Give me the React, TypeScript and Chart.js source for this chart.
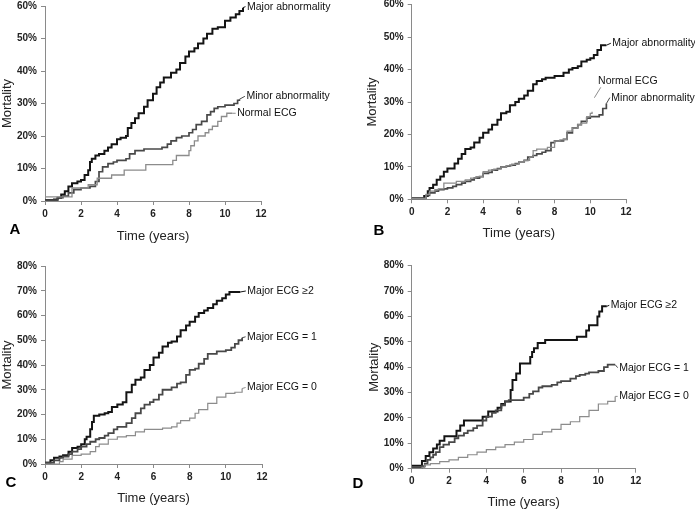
import React, { useEffect, useRef } from "react";
import { Chart, registerables } from "chart.js";
Chart.register(...registerables);

const FONT = "'Liberation Sans', Arial, sans-serif";
const BLACK = "#141414";
const DARK = "#484848";
const LIGHT = "#8c8c8c";
const AXIS = "#8a8a8a";

// ---------- Panel A ----------
const aMajorT = [0, 0.5, 0.7, 0.9, 1.1, 1.3, 1.5, 1.8, 2.0, 2.2, 2.4, 2.5, 2.6, 2.8, 3.0, 3.3, 3.5, 3.7, 4.0, 4.2, 4.5, 4.6, 4.8, 5.0, 5.2, 5.5, 5.7, 6.0, 6.2, 6.4, 6.6, 7.0, 7.3, 7.5, 7.8, 8.0, 8.3, 8.5, 8.8, 9.0, 9.3, 9.6, 10.0, 10.3, 10.6, 10.8, 11.0];
const aMajorV = [0.3, 0.5, 1, 2, 3, 4.5, 5.5, 6, 6.5, 8, 9.5, 12, 13, 14, 14.5, 15.5, 16.5, 17.5, 19, 19.5, 20, 22.5, 24, 25.5, 27, 29, 31, 33, 35, 36.5, 38, 39.5, 40.5, 42.5, 44.5, 46, 47, 48.5, 50, 51.5, 53, 53.5, 55.5, 56.5, 57.5, 58.5, 59.5];
const aMinorT = [0, 0.7, 1.0, 1.3, 1.6, 2.0, 2.5, 2.8, 3.0, 3.2, 3.5, 3.8, 4.0, 4.5, 4.7, 5.0, 5.5, 6.0, 6.5, 6.8, 7.0, 7.3, 7.6, 8.0, 8.2, 8.4, 8.7, 9.0, 9.2, 9.4, 9.6, 10.0, 10.5, 10.7, 10.8];
const aMinorV = [0.3, 1, 1.5, 2.5, 3.5, 4, 4.5, 6, 9, 10.5, 11.5, 12, 12.5, 13, 14.5, 15.5, 16, 16, 16.5, 17.5, 18.5, 19.5, 20, 21, 22, 23.5, 24.5, 26.5, 27.5, 28.5, 29, 29.5, 30, 31, 31.3];
const aNormalT = [0, 1.4, 1.5, 2.4, 2.9, 3.7, 4.4, 5.6, 7.1, 7.3, 8.0, 8.1, 8.3, 8.5, 8.9, 9.1, 9.3, 9.6, 9.8, 10.1, 10.4];
const aNormalV = [1.3, 1.3, 4, 5, 7, 8, 9.5, 11.2, 12.5, 14, 15.5, 17, 18.5, 20, 21, 22, 23, 24.5, 26, 27, 27];

// ---------- Panel B ----------
const bMajorT = [0, 0.5, 0.7, 0.9, 1.0, 1.2, 1.4, 1.6, 1.8, 2.0, 2.2, 2.4, 2.6, 2.8, 3.0, 3.3, 3.5, 3.8, 4.0, 4.3, 4.5, 4.8, 5.0, 5.3, 5.5, 5.8, 6.0, 6.3, 6.5, 6.8, 7.0, 7.3, 7.5, 8.0, 8.3, 8.5, 8.8, 9.0, 9.3, 9.5, 9.8, 10.0, 10.2, 10.4, 10.6, 10.9];
const bMajorV = [0.3, 0.3, 1, 2.5, 3.5, 4.5, 6, 7, 8.5, 9.5, 9.5, 11, 12.5, 14, 15.5, 16, 17.5, 19, 20.5, 21.5, 23, 24.5, 26.5, 27, 29, 30, 31, 32, 33.5, 35.5, 36.5, 37, 37.5, 38, 38, 39, 40, 40.5, 41, 42.5, 43, 43.5, 44.5, 46, 47.5, 47.5];
const bNormalT = [0, 0.5, 0.8, 1.0, 1.3, 1.5, 1.8, 2.2, 2.5, 3.0, 3.3, 3.6, 4.0, 4.3, 4.6, 5.0, 5.3, 5.6, 6.0, 6.3, 6.6, 6.8, 7.0, 7.3, 7.6, 8.0, 8.3, 8.5, 8.7, 9.0, 9.3, 9.5, 9.8, 10.0, 10.1];
const bNormalV = [0.3, 0.3, 1.5, 2.5, 3, 3.2, 5, 5, 5.5, 6, 6.5, 7, 8.5, 9, 9.3, 10, 10.3, 10.8, 11.5, 12, 13, 15, 15.5, 15.5, 16, 18, 18.3, 18.5, 21, 22, 23, 23.5, 25.5, 26.5, 27];
const bMinorT = [0, 0.5, 0.8, 1.0, 1.3, 1.5, 1.8, 2.0, 2.3, 2.5, 2.8, 3.0, 3.3, 3.5, 3.8, 4.0, 4.3, 4.5, 4.8, 5.0, 5.3, 5.5, 5.8, 6.0, 6.3, 6.5, 6.8, 7.0, 7.3, 7.5, 7.8, 8.0, 8.3, 8.5, 8.7, 9.0, 9.3, 9.5, 9.8, 10.0, 10.3, 10.5, 10.7, 10.9];
const bMinorV = [0.3, 0.3, 1.2, 2, 2.5, 3, 3.2, 3.5, 4, 4.5, 5, 5.5, 6, 6.5, 7, 8, 8.3, 9, 9.5, 10, 10.2, 10.5, 11, 11.5, 12, 13, 13.5, 14, 14.5, 15, 17.5, 18, 18, 18.5, 20.5, 22, 23, 24, 25, 25.5, 25.5, 26, 28, 29.5];

// ---------- Panel C ----------
const cTwoT = [0, 0.3, 0.5, 0.8, 1.0, 1.3, 1.5, 1.8, 2.0, 2.2, 2.3, 2.5, 2.6, 2.7, 3.0, 3.3, 3.5, 3.7, 4.0, 4.3, 4.5, 4.8, 5.0, 5.3, 5.5, 5.8, 6.0, 6.3, 6.5, 6.8, 7.0, 7.3, 7.5, 7.8, 8.0, 8.3, 8.5, 8.8, 9.0, 9.3, 9.5, 9.8, 10.0, 10.2, 10.8];
const cTwoV = [0.5, 1.5, 2.5, 3, 3.5, 5, 6.5, 7, 8, 10, 11, 14, 17, 19.5, 20, 20.5, 21, 23, 24, 25, 29, 32, 34, 35, 38, 40, 43, 45, 47.5, 49, 49.5, 51.5, 54, 56, 57.5, 59.5, 61, 62, 63, 64.5, 66, 67, 68.5, 69.5, 69.5];
const cOneT = [0, 0.5, 0.8, 1.0, 1.3, 1.5, 1.8, 2.0, 2.3, 2.5, 2.8, 3.0, 3.3, 3.5, 3.8, 4.0, 4.3, 4.5, 4.8, 5.0, 5.3, 5.5, 5.8, 6.0, 6.3, 6.5, 7.0, 7.3, 7.5, 7.8, 8.0, 8.3, 8.5, 8.8, 9.0, 9.5, 10.0, 10.3, 10.5, 10.7, 10.9];
const cOneV = [0.5, 1.5, 2.5, 3, 4, 5, 6, 7, 8, 9, 10, 10.5, 11.5, 12.5, 14, 15, 15, 16.5, 18.5, 20.5, 22.5, 24, 25, 26, 28, 30, 31, 32.5, 33, 36, 38, 38.5, 40.5, 42.5, 44.5, 45.5, 46, 47, 48.5, 50, 51];
const cZeroT = [0, 0.8, 1.0, 1.5, 2.0, 2.5, 2.8, 3.0, 3.5, 4.0, 4.5, 5.0, 5.5, 6.0, 6.5, 7.0, 7.3, 7.5, 8.0, 8.3, 8.5, 9.0, 9.5, 10.0, 10.5, 10.9];
const cZeroV = [0, 1, 2, 3.5, 4, 5, 7, 8, 10, 11, 11.5, 13, 14, 14, 14.5, 15, 16.5, 17.5, 18.5, 20.5, 22, 24.5, 27, 28.5, 29, 30.5];

// ---------- Panel D ----------
const dTwoT = [0, 0.55, 0.75, 0.95, 1.15, 1.35, 1.5, 1.75, 2.4, 2.6, 2.8, 3.8, 4.1, 4.6, 4.8, 5.0, 5.3, 5.4, 5.6, 5.8, 6.35, 6.45, 6.55, 6.75, 7.15, 8.85, 9.35, 9.5, 9.95, 10.05, 10.2, 10.45];
const dTwoV = [1.2, 3, 5, 6.5, 8, 9.5, 11, 12.8, 15, 17, 19, 20.5, 22.5, 24, 25.5, 26.5, 31, 35, 37.5, 41.5, 44, 46, 47.5, 49.5, 50.7, 52, 54.5, 56.5, 60, 62, 64, 64];
const dOneT = [0, 0.55, 0.7, 0.85, 1.0, 1.15, 1.3, 1.5, 1.7, 2.0, 2.3, 2.5, 2.8, 3.0, 3.3, 3.5, 3.8, 4.0, 4.3, 4.5, 4.8, 5.0, 5.2, 6.0, 6.3, 6.5, 6.8, 7.0, 7.5, 7.8, 8.0, 8.5, 8.8, 9.0, 9.3, 9.5, 10.0, 10.3, 10.5, 10.9];
const dOneV = [0.3, 1, 2, 3.5, 4.5, 5.5, 6.5, 8.5, 9.5, 10.5, 12, 13, 14, 15, 16, 17, 19, 20.5, 22, 23, 25, 26.5, 27, 28, 29.5, 30.5, 32, 32.5, 33, 34, 34.5, 35.5, 36.5, 37, 37.5, 38, 38.5, 40, 41, 41];
const dZeroT = [0, 0.55, 0.7, 1.0, 1.5, 2.0, 2.5, 3.0, 3.5, 4.0, 4.5, 5.0, 5.5, 6.0, 6.5, 7.0, 7.5, 8.0, 8.5, 9.0, 9.5, 10.0, 10.5, 10.9];
const dZeroV = [0, 0.5, 1.5, 2, 2.8, 3.5, 4.5, 5.5, 6.5, 7.5, 8.5, 9.5, 10.5, 11.5, 13.5, 14.5, 15.5, 17.5, 18.5, 20.5, 23, 25.5, 26.5, 28.5];

const xTicks = [0, 2, 4, 6, 8, 10, 12];

type Series = {
  t: number[];
  v: number[];
  color: string;
  width: number;
  label: string;
  dx: number;
  dy: number;
  leader?: number[];
};

type PanelCfg = {
  letter: string;
  left: number;
  top: number;
  w: number;
  h: number;
  area: { l: number; r: number; t: number; b: number };
  padL: number;
  yMax: number;
  xTitlePad: number;
  letterPos: [number, number];
  series: Series[];
};

const panels: PanelCfg[] = [
  {
    letter: "A", left: 0, top: 0, w: 350, h: 255,
    area: { l: 45, r: 261, t: 6, b: 201 }, padL: 0, yMax: 60, xTitlePad: 11, letterPos: [15, 230],
    series: [
      { t: aNormalT, v: aNormalV, color: LIGHT, width: 1.3, label: "Normal ECG", dx: 5, dy: 0 },
      { t: aMinorT, v: aMinorV, color: DARK, width: 1.7, label: "Minor abnormality", dx: 7, dy: -3 },
      { t: aMajorT, v: aMajorV, color: BLACK, width: 2, label: "Major abnormality", dx: 4, dy: -1 },
    ],
  },
  {
    letter: "B", left: 350, top: 0, w: 345, h: 255,
    area: { l: 61.7, r: 276, t: 4.7, b: 199.3 }, padL: 15, yMax: 60, xTitlePad: 14, letterPos: [29, 231],
    series: [
      { t: bNormalT, v: bNormalV, color: LIGHT, width: 1.3, label: "Normal ECG", dx: 6, dy: -31, leader: [2.3, -14, 8.7, -24.4] },
      { t: bMinorT, v: bMinorV, color: DARK, width: 1.7, label: "Minor abnormality", dx: 5, dy: -6 },
      { t: bMajorT, v: bMajorV, color: BLACK, width: 2, label: "Major abnormality", dx: 6, dy: -2 },
    ],
  },
  {
    letter: "C", left: 0, top: 255, w: 350, h: 255,
    area: { l: 45, r: 262, t: 11, b: 209 }, padL: 0, yMax: 80, xTitlePad: 4, letterPos: [11, 228],
    series: [
      { t: cZeroT, v: cZeroV, color: LIGHT, width: 1.2, label: "Major ECG = 0", dx: 5, dy: -1 },
      { t: cOneT, v: cOneV, color: DARK, width: 1.8, label: "Major ECG = 1", dx: 5, dy: -1 },
      { t: cTwoT, v: cTwoV, color: BLACK, width: 2, label: "Major ECG \u22652", dx: 7, dy: -1 },
    ],
  },
  {
    letter: "D", left: 350, top: 255, w: 345, h: 255,
    area: { l: 61.7, r: 285.7, t: 10.7, b: 213.7 }, padL: 17, yMax: 80, xTitlePad: 0, letterPos: [8, 229],
    series: [
      { t: dZeroT, v: dZeroV, color: LIGHT, width: 1.2, label: "Major ECG = 0", dx: 4, dy: 0 },
      { t: dOneT, v: dOneV, color: DARK, width: 1.8, label: "Major ECG = 1", dx: 4, dy: 3 },
      { t: dTwoT, v: dTwoV, color: BLACK, width: 2, label: "Major ECG \u22652", dx: 4, dy: -1 },
    ],
  },
];

function Panel({ cfg }: { cfg: PanelCfg }) {
  const ref = useRef<HTMLCanvasElement>(null);
  useEffect(() => {
    const c = cfg;
    const decor = {
      id: "decor",
      afterDraw(chart: any) {
        const ctx = chart.ctx;
        const xs = chart.scales.x;
        const ys = chart.scales.y;
        ctx.save();
        ctx.font = `10.5px ${FONT}`;
        ctx.fillStyle = "#111";
        ctx.textBaseline = "middle";
        ctx.textAlign = "left";
        for (const s of c.series) {
          const n = s.t.length - 1;
          const ex = xs.getPixelForValue(s.t[n]);
          const ey = ys.getPixelForValue(s.v[n]);
          const tx = ex + s.dx;
          const ty = ey + s.dy;
          ctx.strokeStyle = s.color;
          ctx.lineWidth = 1;
          ctx.beginPath();
          if (s.leader) {
            ctx.moveTo(ex + s.leader[0], ey + s.leader[1]);
            ctx.lineTo(ex + s.leader[2], ey + s.leader[3]);
          } else {
            ctx.moveTo(ex, ey);
            ctx.lineTo(tx - 1.5, ty);
          }
          ctx.stroke();
          ctx.fillText(s.label, tx, ty);
        }
        ctx.font = `bold 15px ${FONT}`;
        ctx.textAlign = "center";
        ctx.fillStyle = "#000";
        ctx.fillText(c.letter, c.letterPos[0], c.letterPos[1]);
        ctx.restore();
      },
    };
    const chart = new Chart(ref.current as HTMLCanvasElement, {
      type: "line",
      data: {
        datasets: c.series.map((s) => ({
          label: s.label,
          data: s.t.map((t, i) => ({ x: t, y: s.v[i] })),
          borderColor: s.color,
          borderWidth: s.width,
          pointRadius: 0,
          stepped: "before",
          fill: false,
          tension: 0,
        })),
      },
      options: {
        responsive: false,
        animation: false,
        devicePixelRatio: 1,
        layout: { padding: { left: c.padL, top: c.area.t, right: c.w - c.area.r, bottom: 0 } },
        plugins: { legend: { display: false }, tooltip: { enabled: false } },
        scales: {
          x: {
            type: "linear",
            min: 0,
            max: 12,
            afterBuildTicks: (s: any) => {
              s.ticks = xTicks.map((v) => ({ value: v }));
            },
            ticks: { font: { family: FONT, size: 10, weight: "bold" }, color: "#222", padding: 3, maxRotation: 0 },
            grid: { drawOnChartArea: false, drawTicks: true, tickLength: 4, color: AXIS },
            border: { color: AXIS, width: 1 },
            title: {
              display: true,
              text: "Time (years)",
              font: { family: FONT, size: 13 },
              color: "#222",
              padding: { top: 0, bottom: c.xTitlePad },
            },
            afterFit: (s: any) => {
              s.height = c.h - c.area.b;
              s.paddingLeft = 0;
              s.paddingRight = 0;
            },
          },
          y: {
            type: "linear",
            min: 0,
            max: c.yMax,
            ticks: {
              stepSize: 10,
              callback: (v: any) => v + "%",
              font: { family: FONT, size: 10, weight: "bold" },
              color: "#222",
              padding: 4,
            },
            grid: { drawOnChartArea: false, drawTicks: true, tickLength: 4, color: AXIS },
            border: { color: AXIS, width: 1 },
            title: {
              display: true,
              text: "Mortality",
              font: { family: FONT, size: 13 },
              color: "#222",
              padding: { top: 0, bottom: 0 },
            },
            afterFit: (s: any) => {
              s.width = c.area.l - c.padL;
              s.paddingTop = 0;
              s.paddingBottom = 0;
            },
          },
        },
      },
      plugins: [decor],
    } as any);
    return () => chart.destroy();
  }, [cfg]);
  return (
    <canvas
      ref={ref}
      width={cfg.w}
      height={cfg.h}
      style={{ position: "absolute", left: cfg.left, top: cfg.top, width: cfg.w, height: cfg.h }}
    />
  );
}

export default function App() {
  return (
    <div style={{ position: "absolute", left: 0, top: 0, width: 695, height: 510, background: "#fff", overflow: "hidden" }}>
      {panels.map((p) => (
        <Panel key={p.letter} cfg={p} />
      ))}
    </div>
  );
}
